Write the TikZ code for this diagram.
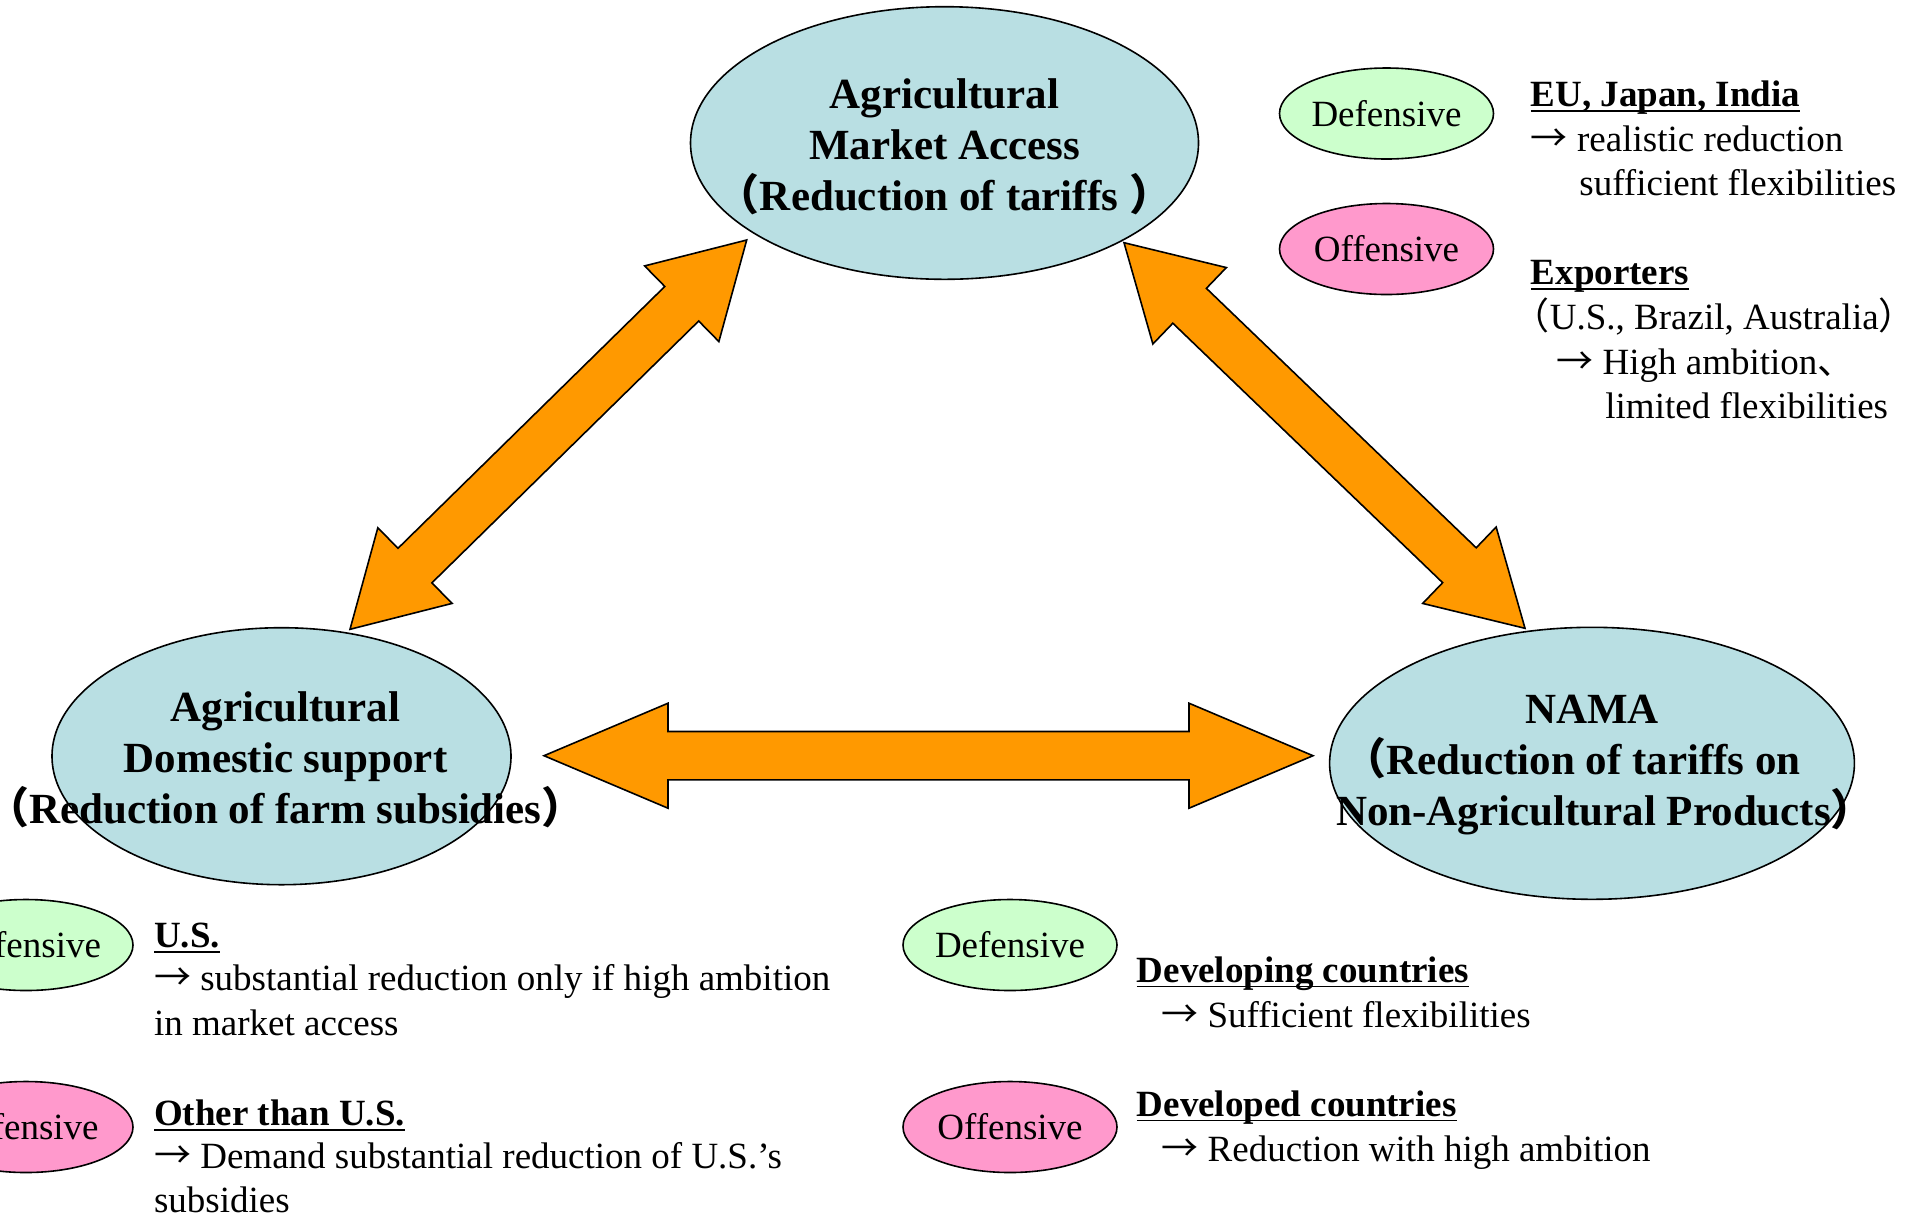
\documentclass[tikz,border=0pt]{standalone}
\usepackage{fontspec}
\setmainfont{Liberation Serif}
\newfontfamily\cjk{Noto Sans CJK JP}
\usetikzlibrary{shapes.geometric,calc}
\definecolor{ellblue}{RGB}{185,223,227}
\definecolor{arrorange}{RGB}{255,153,0}
\definecolor{defgreen}{RGB}{204,255,204}
\definecolor{offpink}{RGB}{255,153,204}
\newsavebox\ulbox
\newcommand\ulx[1]{\sbox\ulbox{#1}\rlap{\rule[-2.6pt]{\wd\ulbox}{0.8pt}}\usebox\ulbox}
\newcommand\fwlp{{\cjk （}}
\newcommand\fwrp{{\cjk ）}}
\newcommand\idc{{\cjk 、}}
\newcommand\rarr{{\cjk →}}
\lineskiplimit=-30pt
% double block arrow between two named coordinates
\newcommand\dblarrow[6]{%
  \coordinate (#6-ha) at ($(#1)!#3!(#2)$);
  \coordinate (#6-hb) at ($(#2)!#3!(#1)$);
  \draw[bigarrow] (#1)
    -- ($(#6-ha)!#5!90:(#2)$)
    -- ($(#6-ha)!#4!90:(#2)$)
    -- ($(#6-hb)!#4!-90:(#1)$)
    -- ($(#6-hb)!#5!-90:(#1)$)
    -- (#2)
    -- ($(#6-hb)!#5!90:(#1)$)
    -- ($(#6-hb)!#4!90:(#1)$)
    -- ($(#6-ha)!#4!-90:(#2)$)
    -- ($(#6-ha)!#5!-90:(#2)$)
    -- cycle;
}
\begin{document}
\begin{tikzpicture}[x=0.5pt,y=-0.5pt,
  bigell/.style={ellipse, draw=black, line width=0.8pt, fill=ellblue, inner sep=0pt},
  bigtext/.style={align=center, inner sep=0pt, font=\fontsize{21.5pt}{25.4pt}\selectfont\bfseries},
  tagell/.style={ellipse, draw=black, line width=0.8pt, inner sep=0pt,
     minimum width=107pt, minimum height=45.5pt, font=\fontsize{18.5pt}{22.3pt}\selectfont},
  defell/.style={tagell, fill=defgreen},
  offell/.style={tagell, fill=offpink},
  txt/.style={anchor=base west, inner sep=0pt, font=\fontsize{18.5pt}{22.3pt}\selectfont},
  bigarrow/.style={fill=arrorange, draw=black, line width=0.8pt, line join=miter}]
\useasboundingbox (0,0) rectangle (1915,1217);
\fill[white] (0,0) rectangle (1915,1217);

% arrow end points
\coordinate (amL) at (746.7,240);
\coordinate (dsT) at (350,629.3);
\coordinate (amR) at (1124,242.7);
\coordinate (namaT) at (1525,628.3);
\coordinate (dsR) at (544,755.7);
\coordinate (namaL) at (1313,755.7);

\dblarrow{amL}{dsT}{45.5pt}{12.1pt}{26.5pt}{la}
\dblarrow{amR}{namaT}{45.5pt}{12.1pt}{26.5pt}{ra}
\dblarrow{dsR}{namaL}{62pt}{12.1pt}{26.25pt}{ha}

% main ellipses
\node[bigell, minimum width=254pt, minimum height=136.3pt] (am) at (944.5,143) {};
\node[bigell, minimum width=229.5pt, minimum height=128.5pt] (ds) at (281.5,756.2) {};
\node[bigell, minimum width=262.4pt, minimum height=136pt] (nama) at (1592,763.3) {};

\node[bigtext] (amtext) at ($(am.center)+(0,3.6)$) {Agricultural\\Market Access\\\fwlp Reduction of tariffs \fwrp};
\node[bigtext] (dstext) at ($(ds.center)+(4,3.6)$) {Agricultural\\Domestic support\\\fwlp Reduction of farm subsidies\fwrp};
\node[bigtext] (namatext) at ($(nama.center)+(0,1.5)$) {NAMA\\\fwlp Reduction of tariffs on\kern20pt\mbox{}\\\hspace*{13pt}Non-Agricultural Products\fwrp};

% tags
\node[defell] (trdef) at (1386.5,113.5) {Defensive};
\node[offell] (troff) at (1386.5,249) {Offensive};
\node[defell] (bldef) at (26,945) {Defensive};
\node[offell] (bloff) at (26,1127) {Offensive};
\node[defell] (bmdef) at (1010,945) {Defensive};
\node[offell] (bmoff) at (1010,1127) {Offensive};

% top-right texts
\node[txt] (t1) at (1530.5,106.5) {\ulx{\textbf{EU, Japan, India}}};
\node[txt] (t2) at (1530.5,151) {\rarr\ realistic reduction};
\node[txt] (t3) at (1579,195.5) {sufficient flexibilities};
\node[txt] (t4) at (1530.5,284.5) {\ulx{\textbf{Exporters}}};
\node[txt] (t5) at (1512.5,329) {\fwlp U.S., Brazil, Australia\fwrp};
\node[txt] (t6) at (1556,374) {\rarr\ High ambition\idc};
\node[txt] (t7) at (1605,418) {limited flexibilities};

% bottom-left texts
\node[txt] (b1) at (153.7,947.5) {\ulx{\textbf{U.S.}}};
\node[txt] (b2) at (153.7,990.5) {\rarr\ substantial reduction only if high ambition};
\node[txt] (b3) at (153.7,1035.5) {in market access};
\node[txt] (b4) at (153.7,1125.5) {\ulx{\textbf{Other than U.S.}}};
\node[txt] (b5) at (153.7,1168.5) {\rarr\ Demand substantial reduction of U.S.’s};
\node[txt] (b6) at (153.7,1212) {subsidies};

% bottom-middle texts
\node[txt] (m1) at (1136.5,982) {\ulx{\textbf{Developing countries}}};
\node[txt] (m2) at (1161,1027) {\rarr\ Sufficient flexibilities};
\node[txt] (m3) at (1136.5,1116) {\ulx{\textbf{Developed countries}}};
\node[txt] (m4) at (1161,1161.5) {\rarr\ Reduction with high ambition};
\end{tikzpicture}
\end{document}
